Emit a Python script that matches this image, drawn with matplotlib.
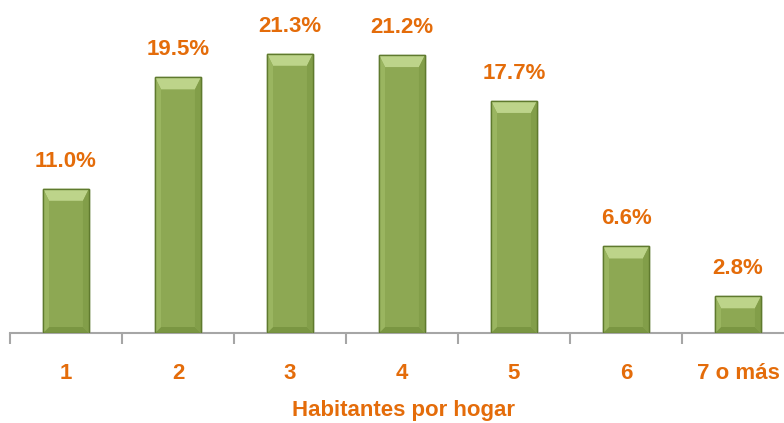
import matplotlib
matplotlib.use("Agg")
import matplotlib.pyplot as plt
from matplotlib.patches import Polygon
from matplotlib import font_manager

categories = ["1", "2", "3", "4", "5", "6", "7 o más"]
values = [11.0, 19.5, 21.3, 21.2, 17.7, 6.6, 2.8]
labels = ["11.0%", "19.5%", "21.3%", "21.2%", "17.7%", "6.6%", "2.8%"]
xlabel = "Habitantes por hogar"

fams = [f.name for f in font_manager.fontManager.ttflist]
fam = "Liberation Sans Narrow" if "Liberation Sans Narrow" in fams else "Liberation Sans"

orange = "#E46C0A"
W, H = 784, 423
fig = plt.figure(figsize=(W / 100, H / 100), dpi=100)
ax = fig.add_axes([10 / W, 90 / H, 784 / W, 333 / H])

x = list(range(len(categories)))
bw = 0.41
bars = ax.bar(x, values, width=bw, color="#8DA853", edgecolor="#5F7A2E", linewidth=1.0, zorder=2)

ymax = 25.4
ax.set_xlim(-0.5, 6.5)
ax.set_ylim(0, ymax)

# bevel effect
px_y = ymax / 333.0
px_x = 1.0 / 112.0
for b in bars:
    x0 = b.get_x(); x1 = x0 + b.get_width(); h = b.get_height()
    bh = 12 * px_y; bs = 6 * px_x; bb = 6 * px_y
    ax.add_patch(Polygon([[x0, h], [x1, h], [x1 - bs, h - bh], [x0 + bs, h - bh]],
                         closed=True, facecolor="#BDD48A", edgecolor="none", zorder=3))
    ax.add_patch(Polygon([[x0, 0], [x1, 0], [x1 - bs, bb], [x0 + bs, bb]],
                         closed=True, facecolor="#7A9642", edgecolor="none", zorder=3))
    ax.add_patch(Polygon([[x1, 0], [x1, h], [x1 - bs, h - bh], [x1 - bs, bb]],
                         closed=True, facecolor="#829E49", edgecolor="none", zorder=3))
    ax.add_patch(Polygon([[x0, 0], [x0, h], [x0 + bs, h - bh], [x0 + bs, bb]],
                         closed=True, facecolor="#9AB560", edgecolor="none", zorder=3))
    ax.add_patch(plt.Rectangle((x0, 0), x1 - x0, h, facecolor="none",
                               edgecolor="#5F7A2E", linewidth=1.0, zorder=4))

for xi, v, lab in zip(x, values, labels):
    ax.annotate(lab, (xi, v), xytext=(0, 16), textcoords="offset points",
                ha="center", va="baseline", color=orange, fontsize=16,
                fontweight="bold", family=fam)

for s in ["top", "right", "left"]:
    ax.spines[s].set_visible(False)
ax.spines["bottom"].set_color("#A6A6A6")
ax.spines["bottom"].set_linewidth(1.5)
ax.set_yticks([])
ax.set_xticks([i - 0.5 for i in range(len(categories))])
ax.set_xticklabels([])
ax.tick_params(axis="x", length=8, width=1.5, color="#A6A6A6", direction="out")

for xi, c in zip(x, categories):
    ax.text(xi, -46 * px_y, c, ha="center", va="baseline", color=orange,
            fontsize=16, fontweight="bold", family=fam, clip_on=False)

fig.text(403 / W, 1 - 416 / H, xlabel, ha="center", va="baseline", color=orange,
         fontsize=16, fontweight="bold", family=fam)

fig.savefig("out.png", dpi=100)
